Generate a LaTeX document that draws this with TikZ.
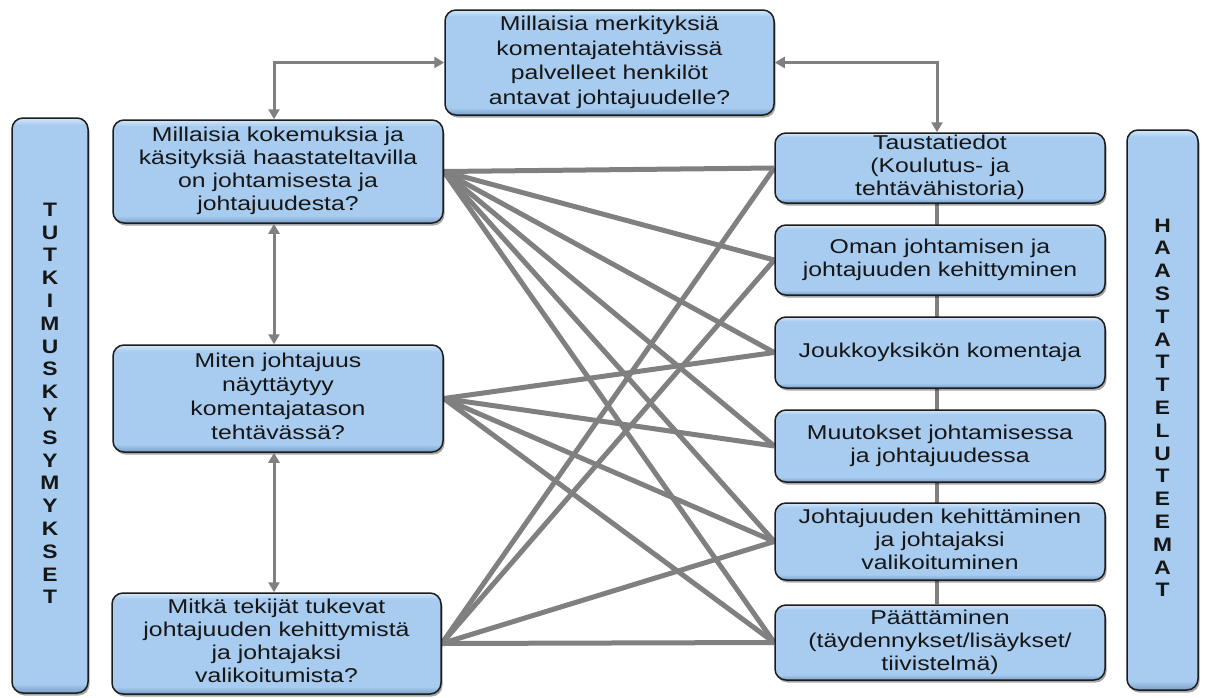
\documentclass[tikz,border=0pt]{standalone}
\usepackage{fontspec}
\setmainfont{Liberation Sans}
\usepackage{graphicx}
\usetikzlibrary{arrows.meta,shadows,backgrounds}

\definecolor{bmain}{RGB}{168,204,240}
\definecolor{blight}{RGB}{212,231,250}
\definecolor{bdark}{RGB}{118,158,200}
\definecolor{edgecol}{RGB}{28,28,28}
\definecolor{wiregray}{RGB}{128,128,128}
\definecolor{ink}{RGB}{22,22,22}

% bevel-like vertical shading: light rim on top, darker rim at the bottom
\pgfdeclareverticalshading{boxshade}{100bp}{color(0bp)=(bdark); color(25bp)=(bdark); color(28.5bp)=(bmain); color(72bp)=(bmain); color(75bp)=(blight); color(100bp)=(blight)}
\pgfdeclareverticalshading{barshade}{100bp}{color(0bp)=(bdark); color(25bp)=(bdark); color(25.8bp)=(bmain); color(74.4bp)=(bmain); color(75bp)=(blight); color(100bp)=(blight)}

\newcommand{\boxtext}[1]{\scalebox{1.24}[1]{\begin{tabular}{@{}c@{}}#1\end{tabular}}}
\newcommand{\bartext}[1]{\scalebox{1.17}[1]{\bfseries\begin{tabular}{@{}c@{}}#1\end{tabular}}}

\tikzset{
  qbox/.style={draw=edgecol, line width=1.5pt, rounded corners=11pt,
    shading=boxshade, text=ink, inner sep=0pt,
    font=\fontsize{20}{23}\selectfont,
    drop shadow={shadow xshift=1.5pt, shadow yshift=-2.5pt, opacity=.35, fill=black}},
  sidebar/.style={qbox, shading=barshade, font=\fontsize{19.5}{22.8}\selectfont},
  link/.style={draw=wiregray, line width=5pt},
  twoway/.style={draw=wiregray, line width=3pt,
    {Triangle[length=10pt,width=11pt]}-{Triangle[length=10pt,width=11pt]}},
}

\begin{document}
\begin{tikzpicture}[x=1pt,y=-1pt]
\useasboundingbox (0,0) rectangle (1208,697);

% side labels
\node[sidebar, minimum width=76pt, minimum height=575pt] (sl) at (50,405.5)
  {\raisebox{-6pt}{\bartext{T\\U\\T\\K\\I\\M\\U\\S\\K\\Y\\S\\Y\\M\\Y\\K\\S\\E\\T}}};
\node[sidebar, minimum width=71pt, minimum height=560pt] (sr) at (1162.5,410)
  {\raisebox{-2pt}{\bartext{H\\A\\A\\S\\T\\A\\T\\T\\E\\L\\U\\T\\E\\E\\M\\A\\T}}};

% main question
\node[qbox, minimum width=329pt, minimum height=105pt, font=\fontsize{20}{24.5}\selectfont] (top) at (609.5,62.5)
  {\raisebox{-2pt}{\boxtext{Millaisia merkityksiä\\komentajatehtävissä\\palvelleet henkilöt\\antavat johtajuudelle?}}};

% research questions
\node[qbox, minimum width=330pt, minimum height=103pt] (q1) at (278,171.5)
  {\boxtext{Millaisia kokemuksia ja\\käsityksiä haastateltavilla\\on johtamisesta ja\\johtajuudesta?}};
\node[qbox, minimum width=330pt, minimum height=107pt, font=\fontsize{20}{24}\selectfont] (q2) at (278,398.5)
  {\boxtext{Miten johtajuus\\näyttäytyy\\komentajatason\\tehtävässä?}};
\node[qbox, minimum width=329pt, minimum height=101pt] (q3) at (276.5,643.5)
  {\boxtext{Mitkä tekijät tukevat\\johtajuuden kehittymistä\\ja johtajaksi\\valikoitumista?}};

% interview themes
\node[qbox, minimum width=330pt, minimum height=70pt] (t1) at (940,168)
  {\boxtext{Taustatiedot\\(Koulutus- ja\\tehtävähistoria)}};
\node[qbox, minimum width=330pt, minimum height=70pt] (t2) at (940,260)
  {\boxtext{Oman johtamisen ja\\johtajuuden kehittyminen}};
\node[qbox, minimum width=330pt, minimum height=71pt] (t3) at (940,352.5)
  {\boxtext{Joukkoyksikön komentaja}};
\node[qbox, minimum width=330pt, minimum height=72pt] (t4) at (940,446)
  {\boxtext{Muutokset johtamisessa\\ja johtajuudessa}};
\node[qbox, minimum width=330pt, minimum height=77pt] (t5) at (940,541.5)
  {\boxtext{Johtajuuden kehittäminen\\ja johtajaksi\\valikoituminen}};
\node[qbox, minimum width=330pt, minimum height=75pt] (t6) at (940,642.5)
  {\boxtext{Päättäminen\\(täydennykset/lisäykset/\\tiivistelmä)}};

\coordinate (lx) at (274,0);
\coordinate (rx) at (937,0);

\begin{scope}[on background layer]
  % chain through the themes
  \draw[link, line width=3.5pt] (t1.south -| rx) -- (t6.north -| rx);
  % questions to themes
  \foreach \t in {t1,t2,t3,t4,t5,t6} \draw[link] (q1.east) -- (\t.west);
  \foreach \t in {t3,t4,t5,t6} \draw[link] (q2.east) -- (\t.west);
  \foreach \t in {t1,t2,t5,t6} \draw[link] (q3.east) -- (\t.west);
\end{scope}

% two-way arrows
\draw[twoway] (top.west) -| (q1.north -| lx);
\draw[twoway] (top.east) -| (t1.north -| rx);
\draw[twoway] (q1.south -| lx) -- (q2.north -| lx);
\draw[twoway] (q2.south -| lx) -- (q3.north -| lx);
\end{tikzpicture}
\end{document}
